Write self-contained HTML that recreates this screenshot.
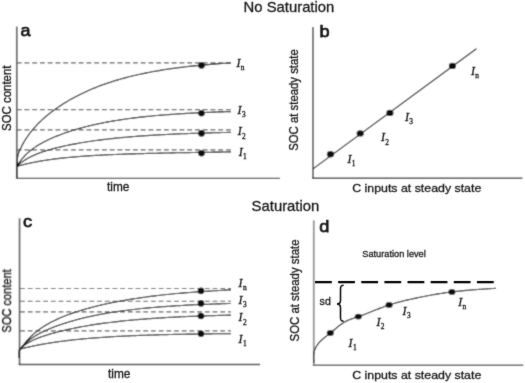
<!DOCTYPE html>
<html><head><meta charset="utf-8"><style>
html,body{margin:0;padding:0;background:#fff;}
svg{display:block;}
text{font-family:"Liberation Sans",sans-serif;fill:#1a1a1a;stroke:#1a1a1a;stroke-width:0.3px;}
.I{font-family:"Liberation Serif",serif;font-style:italic;fill:#1a1a1a;}
.sub{font-family:"Liberation Serif",serif;fill:#1a1a1a;}
.ax{fill:none;}
.L{font-weight:normal;stroke-width:0.75px;}
.dash{stroke:#5a5a5a;stroke-width:1.15;stroke-dasharray:4.9 2.85;fill:none;}
.cv{stroke:#000;stroke-width:1.15;fill:none;}
</style></head><body>
<svg width="525" height="383" viewBox="0 0 525 383">
<defs><filter id="soft" x="0" y="0" width="525" height="383" filterUnits="userSpaceOnUse"><feConvolveMatrix order="3" kernelMatrix="1 4 1 4 16 4 1 4 1" edgeMode="duplicate"/></filter>
<filter id="softT" x="0" y="0" width="525" height="383" filterUnits="userSpaceOnUse"><feConvolveMatrix order="3" kernelMatrix="1 8 1 8 64 8 1 8 1" edgeMode="none"/></filter></defs>
<g filter="url(#soft)">
<rect x="0" y="0" width="525" height="383" fill="#fff"/>
<!-- titles -->

<!-- panel a -->
<path class="ax" d="M16.8,26.6 V179" stroke="#62626c" stroke-width="1.8"/><path class="ax" d="M16,178.35 H280" stroke="#3a3a42" stroke-width="1.45"/>
<g class="dash">
<path d="M16.7,62.8 H231"/><path d="M16.7,109.6 H231"/><path d="M16.7,129.8 H231"/><path d="M16.7,149.8 H231"/>
</g>
<g class="cv">
<path d="M16.9,178 V166.4"/>
<path d="M16.90,166.40 L16.90,166.33 L16.91,166.10 L16.93,165.68 L16.96,165.08 L17.01,164.32 L17.06,163.42 L17.12,162.42 L17.20,161.37 L17.29,160.29 L17.39,159.23 L17.50,158.20 L17.63,157.24 L17.77,156.34 L17.92,155.51 L18.09,154.75 L18.27,154.04 L18.47,153.38 L18.67,152.74 L18.90,152.13 L19.14,151.53 L19.39,150.92 L19.66,150.31 L19.94,149.69 L20.24,149.05 L20.56,148.40 L20.89,147.73 L21.23,147.05 L21.59,146.35 L21.97,145.63 L22.36,144.89 L22.77,144.15 L23.19,143.39 L23.63,142.61 L24.09,141.83 L24.56,141.04 L25.05,140.24 L25.56,139.43 L26.08,138.61 L26.62,137.79 L27.18,136.96 L27.76,136.12 L28.35,135.28 L28.96,134.44 L29.58,133.60 L30.22,132.75 L30.88,131.90 L31.56,131.05 L32.26,130.19 L32.97,129.34 L33.70,128.49 L34.45,127.63 L35.21,126.78 L36.00,125.92 L36.80,125.07 L37.62,124.21 L38.46,123.36 L39.31,122.51 L40.19,121.65 L41.08,120.80 L41.99,119.95 L42.92,119.10 L43.87,118.25 L44.83,117.41 L45.82,116.56 L46.82,115.72 L47.84,114.87 L48.88,114.03 L49.94,113.19 L51.02,112.35 L52.12,111.52 L53.23,110.68 L54.37,109.85 L55.52,109.02 L56.70,108.19 L57.89,107.37 L59.10,106.54 L60.33,105.72 L61.58,104.91 L62.85,104.09 L64.14,103.28 L65.45,102.47 L66.78,101.67 L68.13,100.87 L69.50,100.08 L70.88,99.29 L72.29,98.50 L73.72,97.72 L75.16,96.94 L76.63,96.17 L78.12,95.41 L79.62,94.65 L81.15,93.90 L82.70,93.15 L84.26,92.41 L85.85,91.68 L87.46,90.95 L89.08,90.23 L90.73,89.52 L92.40,88.81 L94.09,88.12 L95.80,87.43 L97.52,86.75 L99.27,86.08 L101.04,85.41 L102.83,84.76 L104.64,84.11 L106.48,83.47 L108.33,82.84 L110.20,82.22 L112.09,81.61 L114.01,81.01 L115.94,80.41 L117.90,79.83 L119.88,79.26 L121.87,78.69 L123.89,78.14 L125.93,77.59 L127.99,77.06 L130.07,76.53 L132.18,76.01 L134.30,75.51 L136.45,75.01 L138.61,74.52 L140.80,74.04 L143.01,73.58 L145.24,73.12 L147.49,72.67 L149.76,72.23 L152.06,71.80 L154.37,71.38 L156.71,70.97 L159.07,70.57 L161.45,70.17 L163.85,69.79 L166.27,69.42 L168.72,69.05 L171.19,68.69 L173.68,68.35 L176.19,68.01 L178.72,67.68 L181.27,67.36 L183.85,67.04 L186.44,66.74 L189.06,66.44 L191.70,66.16 L194.37,65.87 L197.05,65.60 L199.76,65.34 L202.49,65.08 L205.24,64.83 L208.01,64.59 L210.81,64.35 L213.63,64.12 L216.47,63.90 L219.33,63.69 L222.21,63.48 L225.12,63.28 L228.05,63.08 L231.00,62.90"/>
<path d="M16.90,166.40 L16.90,166.39 L16.91,166.38 L16.93,166.34 L16.96,166.29 L17.01,166.22 L17.06,166.13 L17.12,166.02 L17.20,165.89 L17.29,165.74 L17.39,165.57 L17.50,165.38 L17.63,165.17 L17.77,164.94 L17.92,164.69 L18.09,164.42 L18.27,164.14 L18.47,163.83 L18.67,163.51 L18.90,163.17 L19.14,162.81 L19.39,162.44 L19.66,162.05 L19.94,161.65 L20.24,161.23 L20.56,160.80 L20.89,160.36 L21.23,159.91 L21.59,159.45 L21.97,158.98 L22.36,158.50 L22.77,158.02 L23.19,157.52 L23.63,157.02 L24.09,156.52 L24.56,156.01 L25.05,155.49 L25.56,154.97 L26.08,154.45 L26.62,153.93 L27.18,153.41 L27.76,152.88 L28.35,152.35 L28.96,151.83 L29.58,151.30 L30.22,150.77 L30.88,150.24 L31.56,149.72 L32.26,149.19 L32.97,148.67 L33.70,148.15 L34.45,147.63 L35.21,147.11 L36.00,146.59 L36.80,146.07 L37.62,145.56 L38.46,145.04 L39.31,144.53 L40.19,144.02 L41.08,143.51 L41.99,143.01 L42.92,142.50 L43.87,142.00 L44.83,141.50 L45.82,141.00 L46.82,140.50 L47.84,140.01 L48.88,139.52 L49.94,139.02 L51.02,138.53 L52.12,138.05 L53.23,137.56 L54.37,137.07 L55.52,136.59 L56.70,136.11 L57.89,135.64 L59.10,135.16 L60.33,134.69 L61.58,134.22 L62.85,133.75 L64.14,133.28 L65.45,132.82 L66.78,132.36 L68.13,131.90 L69.50,131.45 L70.88,131.00 L72.29,130.55 L73.72,130.11 L75.16,129.67 L76.63,129.24 L78.12,128.81 L79.62,128.38 L81.15,127.95 L82.70,127.54 L84.26,127.12 L85.85,126.71 L87.46,126.31 L89.08,125.90 L90.73,125.51 L92.40,125.12 L94.09,124.73 L95.80,124.35 L97.52,123.98 L99.27,123.61 L101.04,123.24 L102.83,122.88 L104.64,122.53 L106.48,122.18 L108.33,121.84 L110.20,121.50 L112.09,121.17 L114.01,120.84 L115.94,120.52 L117.90,120.21 L119.88,119.90 L121.87,119.60 L123.89,119.30 L125.93,119.01 L127.99,118.73 L130.07,118.45 L132.18,118.18 L134.30,117.91 L136.45,117.65 L138.61,117.39 L140.80,117.14 L143.01,116.90 L145.24,116.66 L147.49,116.43 L149.76,116.20 L152.06,115.98 L154.37,115.76 L156.71,115.55 L159.07,115.34 L161.45,115.14 L163.85,114.95 L166.27,114.76 L168.72,114.57 L171.19,114.39 L173.68,114.22 L176.19,114.05 L178.72,113.88 L181.27,113.72 L183.85,113.57 L186.44,113.42 L189.06,113.27 L191.70,113.13 L194.37,112.99 L197.05,112.86 L199.76,112.73 L202.49,112.60 L205.24,112.48 L208.01,112.37 L210.81,112.25 L213.63,112.14 L216.47,112.04 L219.33,111.94 L222.21,111.84 L225.12,111.74 L228.05,111.65 L231.00,111.56"/>
<path d="M16.90,166.40 L16.90,166.40 L16.91,166.39 L16.93,166.37 L16.96,166.34 L17.01,166.30 L17.06,166.25 L17.12,166.18 L17.20,166.11 L17.29,166.03 L17.39,165.93 L17.50,165.82 L17.63,165.71 L17.77,165.58 L17.92,165.43 L18.09,165.28 L18.27,165.12 L18.47,164.94 L18.67,164.76 L18.90,164.56 L19.14,164.35 L19.39,164.14 L19.66,163.91 L19.94,163.68 L20.24,163.43 L20.56,163.18 L20.89,162.92 L21.23,162.65 L21.59,162.38 L21.97,162.10 L22.36,161.81 L22.77,161.52 L23.19,161.22 L23.63,160.91 L24.09,160.61 L24.56,160.29 L25.05,159.98 L25.56,159.66 L26.08,159.34 L26.62,159.01 L27.18,158.69 L27.76,158.36 L28.35,158.03 L28.96,157.70 L29.58,157.36 L30.22,157.03 L30.88,156.70 L31.56,156.37 L32.26,156.03 L32.97,155.70 L33.70,155.37 L34.45,155.04 L35.21,154.71 L36.00,154.38 L36.80,154.05 L37.62,153.72 L38.46,153.39 L39.31,153.07 L40.19,152.75 L41.08,152.42 L41.99,152.10 L42.92,151.78 L43.87,151.47 L44.83,151.15 L45.82,150.84 L46.82,150.52 L47.84,150.21 L48.88,149.90 L49.94,149.59 L51.02,149.29 L52.12,148.98 L53.23,148.68 L54.37,148.38 L55.52,148.08 L56.70,147.78 L57.89,147.49 L59.10,147.19 L60.33,146.90 L61.58,146.61 L62.85,146.32 L64.14,146.04 L65.45,145.75 L66.78,145.47 L68.13,145.19 L69.50,144.91 L70.88,144.64 L72.29,144.36 L73.72,144.09 L75.16,143.82 L76.63,143.56 L78.12,143.29 L79.62,143.03 L81.15,142.77 L82.70,142.51 L84.26,142.26 L85.85,142.01 L87.46,141.76 L89.08,141.51 L90.73,141.27 L92.40,141.02 L94.09,140.79 L95.80,140.55 L97.52,140.32 L99.27,140.09 L101.04,139.86 L102.83,139.64 L104.64,139.42 L106.48,139.20 L108.33,138.99 L110.20,138.78 L112.09,138.57 L114.01,138.37 L115.94,138.17 L117.90,137.97 L119.88,137.78 L121.87,137.59 L123.89,137.40 L125.93,137.22 L127.99,137.04 L130.07,136.86 L132.18,136.68 L134.30,136.51 L136.45,136.35 L138.61,136.18 L140.80,136.02 L143.01,135.87 L145.24,135.71 L147.49,135.56 L149.76,135.42 L152.06,135.27 L154.37,135.13 L156.71,135.00 L159.07,134.86 L161.45,134.73 L163.85,134.61 L166.27,134.48 L168.72,134.36 L171.19,134.24 L173.68,134.13 L176.19,134.02 L178.72,133.91 L181.27,133.80 L183.85,133.70 L186.44,133.60 L189.06,133.50 L191.70,133.40 L194.37,133.31 L197.05,133.22 L199.76,133.14 L202.49,133.05 L205.24,132.97 L208.01,132.89 L210.81,132.81 L213.63,132.74 L216.47,132.67 L219.33,132.60 L222.21,132.53 L225.12,132.46 L228.05,132.40 L231.00,132.34"/>
<path d="M16.90,166.40 L16.90,166.40 L16.91,166.40 L16.93,166.39 L16.96,166.38 L17.01,166.37 L17.06,166.35 L17.12,166.34 L17.20,166.31 L17.29,166.29 L17.39,166.26 L17.50,166.23 L17.63,166.19 L17.77,166.15 L17.92,166.11 L18.09,166.06 L18.27,166.01 L18.47,165.96 L18.67,165.90 L18.90,165.83 L19.14,165.77 L19.39,165.70 L19.66,165.63 L19.94,165.55 L20.24,165.47 L20.56,165.38 L20.89,165.30 L21.23,165.21 L21.59,165.11 L21.97,165.01 L22.36,164.91 L22.77,164.81 L23.19,164.70 L23.63,164.59 L24.09,164.48 L24.56,164.36 L25.05,164.24 L25.56,164.12 L26.08,164.00 L26.62,163.87 L27.18,163.74 L27.76,163.61 L28.35,163.48 L28.96,163.34 L29.58,163.20 L30.22,163.06 L30.88,162.92 L31.56,162.78 L32.26,162.64 L32.97,162.49 L33.70,162.34 L34.45,162.20 L35.21,162.05 L36.00,161.90 L36.80,161.75 L37.62,161.59 L38.46,161.44 L39.31,161.29 L40.19,161.14 L41.08,160.98 L41.99,160.83 L42.92,160.67 L43.87,160.52 L44.83,160.37 L45.82,160.22 L46.82,160.06 L47.84,159.91 L48.88,159.76 L49.94,159.61 L51.02,159.46 L52.12,159.31 L53.23,159.16 L54.37,159.01 L55.52,158.87 L56.70,158.72 L57.89,158.58 L59.10,158.43 L60.33,158.29 L61.58,158.15 L62.85,158.01 L64.14,157.88 L65.45,157.74 L66.78,157.61 L68.13,157.48 L69.50,157.35 L70.88,157.22 L72.29,157.09 L73.72,156.97 L75.16,156.84 L76.63,156.72 L78.12,156.60 L79.62,156.48 L81.15,156.37 L82.70,156.26 L84.26,156.14 L85.85,156.03 L87.46,155.93 L89.08,155.82 L90.73,155.72 L92.40,155.61 L94.09,155.51 L95.80,155.41 L97.52,155.32 L99.27,155.22 L101.04,155.13 L102.83,155.04 L104.64,154.95 L106.48,154.86 L108.33,154.78 L110.20,154.69 L112.09,154.61 L114.01,154.53 L115.94,154.45 L117.90,154.37 L119.88,154.30 L121.87,154.22 L123.89,154.15 L125.93,154.08 L127.99,154.01 L130.07,153.94 L132.18,153.87 L134.30,153.81 L136.45,153.74 L138.61,153.68 L140.80,153.62 L143.01,153.56 L145.24,153.50 L147.49,153.44 L149.76,153.38 L152.06,153.32 L154.37,153.27 L156.71,153.21 L159.07,153.16 L161.45,153.11 L163.85,153.05 L166.27,153.00 L168.72,152.95 L171.19,152.90 L173.68,152.85 L176.19,152.80 L178.72,152.76 L181.27,152.71 L183.85,152.66 L186.44,152.61 L189.06,152.57 L191.70,152.52 L194.37,152.48 L197.05,152.43 L199.76,152.39 L202.49,152.34 L205.24,152.30 L208.01,152.26 L210.81,152.21 L213.63,152.17 L216.47,152.13 L219.33,152.08 L222.21,152.04 L225.12,152.00 L228.05,151.96 L231.00,151.91"/>
</g>
<g fill="#111">
<circle cx="201.5" cy="65.4" r="3.3"/><circle cx="201.5" cy="113.2" r="3.3"/><circle cx="201.5" cy="133.4" r="3.3"/><circle cx="201.5" cy="153.3" r="3.3"/>
</g>

<!-- panel b -->
<path class="ax" d="M313,27 V179" stroke="#6c6c76" stroke-width="1.9"/><path class="ax" d="M312,178.3 H522.4" stroke="#3e3e46" stroke-width="1.45"/>
<path class="cv" d="M313,168.9 L476.4,48.7"/>
<g fill="#111">
<ellipse cx="330.5" cy="154.3" rx="3.6" ry="3.2"/><ellipse cx="360.2" cy="133.4" rx="3.6" ry="3.2"/><ellipse cx="389.9" cy="112.9" rx="3.6" ry="3.2"/><ellipse cx="452.4" cy="65.9" rx="3.6" ry="3.2"/>
</g>

<!-- panel c -->
<path class="ax" d="M19.55,218.3 V365" stroke="#5a5a64" stroke-width="1.7"/><path class="ax" d="M18.7,364.4 H260.1" stroke="#3e3e46" stroke-width="1.45"/>
<g class="dash" style="stroke-dasharray:4.8 2.9">
<path d="M20.1,288.5 H231"/><path d="M20.1,301.2 H231"/><path d="M20.1,311.9 H231"/><path d="M20.1,330.9 H231"/>
</g>
<g class="cv">
<path d="M19.30,358.00 L19.30,357.10 L19.31,354.71 L19.33,352.45 L19.36,351.28 L19.40,350.89 L19.46,350.75 L19.52,350.64 L19.59,350.52 L19.68,350.38 L19.78,350.23 L19.89,350.05 L20.02,349.85 L20.16,349.64 L20.31,349.40 L20.48,349.15 L20.65,348.88 L20.85,348.59 L21.05,348.28 L21.28,347.95 L21.51,347.61 L21.76,347.24 L22.03,346.87 L22.31,346.47 L22.60,346.06 L22.92,345.64 L23.24,345.20 L23.58,344.74 L23.94,344.28 L24.31,343.80 L24.70,343.31 L25.10,342.80 L25.52,342.29 L25.96,341.77 L26.41,341.24 L26.88,340.70 L27.36,340.15 L27.86,339.59 L28.38,339.03 L28.92,338.47 L29.47,337.90 L30.03,337.32 L30.62,336.74 L31.22,336.16 L31.84,335.57 L32.47,334.99 L33.13,334.40 L33.80,333.81 L34.48,333.22 L35.19,332.63 L35.91,332.04 L36.65,331.45 L37.41,330.86 L38.18,330.27 L38.97,329.68 L39.79,329.10 L40.61,328.52 L41.46,327.94 L42.32,327.36 L43.21,326.79 L44.11,326.22 L45.03,325.65 L45.96,325.09 L46.92,324.53 L47.89,323.97 L48.88,323.42 L49.89,322.87 L50.92,322.32 L51.97,321.78 L53.04,321.24 L54.12,320.70 L55.23,320.17 L56.35,319.64 L57.49,319.12 L58.65,318.60 L59.83,318.08 L61.03,317.57 L62.25,317.06 L63.48,316.55 L64.74,316.05 L66.01,315.55 L67.31,315.06 L68.62,314.57 L69.95,314.08 L71.31,313.59 L72.68,313.11 L74.07,312.64 L75.48,312.17 L76.91,311.70 L78.36,311.23 L79.83,310.77 L81.32,310.31 L82.83,309.86 L84.36,309.41 L85.91,308.96 L87.48,308.52 L89.07,308.08 L90.67,307.64 L92.30,307.21 L93.95,306.78 L95.62,306.36 L97.31,305.94 L99.02,305.53 L100.75,305.12 L102.50,304.71 L104.27,304.31 L106.06,303.91 L107.87,303.52 L109.70,303.13 L111.55,302.75 L113.43,302.37 L115.32,302.00 L117.23,301.63 L119.17,301.26 L121.12,300.90 L123.10,300.55 L125.09,300.20 L127.11,299.85 L129.15,299.51 L131.21,299.18 L133.28,298.85 L135.38,298.52 L137.51,298.20 L139.65,297.89 L141.81,297.58 L144.00,297.27 L146.20,296.98 L148.43,296.68 L150.67,296.39 L152.94,296.11 L155.23,295.83 L157.54,295.55 L159.88,295.29 L162.23,295.02 L164.60,294.76 L167.00,294.51 L169.42,294.26 L171.86,294.02 L174.32,293.78 L176.80,293.55 L179.30,293.32 L181.83,293.09 L184.38,292.88 L186.94,292.66 L189.53,292.45 L192.14,292.25 L194.78,292.05 L197.43,291.86 L200.11,291.66 L202.81,291.48 L205.53,291.30 L208.27,291.12 L211.04,290.95 L213.82,290.78 L216.63,290.62 L219.46,290.46 L222.31,290.30 L225.19,290.15 L228.08,290.00 L231.00,289.86"/>
<path d="M19.30,358.00 L19.30,357.20 L19.31,354.95 L19.33,352.55 L19.36,351.04 L19.40,350.42 L19.46,350.20 L19.52,350.09 L19.59,349.98 L19.68,349.86 L19.78,349.72 L19.89,349.57 L20.02,349.40 L20.16,349.21 L20.31,349.01 L20.48,348.79 L20.65,348.56 L20.85,348.31 L21.05,348.05 L21.28,347.77 L21.51,347.48 L21.76,347.18 L22.03,346.87 L22.31,346.54 L22.60,346.20 L22.92,345.86 L23.24,345.50 L23.58,345.13 L23.94,344.76 L24.31,344.38 L24.70,343.99 L25.10,343.59 L25.52,343.19 L25.96,342.78 L26.41,342.37 L26.88,341.96 L27.36,341.54 L27.86,341.12 L28.38,340.69 L28.92,340.27 L29.47,339.84 L30.03,339.41 L30.62,338.98 L31.22,338.54 L31.84,338.11 L32.47,337.68 L33.13,337.24 L33.80,336.81 L34.48,336.38 L35.19,335.94 L35.91,335.51 L36.65,335.08 L37.41,334.64 L38.18,334.21 L38.97,333.78 L39.79,333.35 L40.61,332.92 L41.46,332.49 L42.32,332.06 L43.21,331.63 L44.11,331.20 L45.03,330.77 L45.96,330.35 L46.92,329.92 L47.89,329.50 L48.88,329.07 L49.89,328.65 L50.92,328.22 L51.97,327.80 L53.04,327.38 L54.12,326.96 L55.23,326.54 L56.35,326.12 L57.49,325.71 L58.65,325.29 L59.83,324.88 L61.03,324.46 L62.25,324.05 L63.48,323.64 L64.74,323.23 L66.01,322.83 L67.31,322.43 L68.62,322.02 L69.95,321.62 L71.31,321.23 L72.68,320.83 L74.07,320.44 L75.48,320.05 L76.91,319.67 L78.36,319.29 L79.83,318.91 L81.32,318.53 L82.83,318.16 L84.36,317.79 L85.91,317.42 L87.48,317.06 L89.07,316.70 L90.67,316.35 L92.30,316.00 L93.95,315.65 L95.62,315.31 L97.31,314.98 L99.02,314.64 L100.75,314.31 L102.50,313.99 L104.27,313.67 L106.06,313.36 L107.87,313.05 L109.70,312.74 L111.55,312.44 L113.43,312.15 L115.32,311.86 L117.23,311.57 L119.17,311.29 L121.12,311.02 L123.10,310.75 L125.09,310.48 L127.11,310.22 L129.15,309.97 L131.21,309.72 L133.28,309.47 L135.38,309.23 L137.51,309.00 L139.65,308.77 L141.81,308.54 L144.00,308.32 L146.20,308.11 L148.43,307.90 L150.67,307.69 L152.94,307.49 L155.23,307.30 L157.54,307.11 L159.88,306.92 L162.23,306.74 L164.60,306.56 L167.00,306.39 L169.42,306.22 L171.86,306.06 L174.32,305.90 L176.80,305.75 L179.30,305.60 L181.83,305.45 L184.38,305.31 L186.94,305.17 L189.53,305.04 L192.14,304.91 L194.78,304.78 L197.43,304.66 L200.11,304.54 L202.81,304.42 L205.53,304.31 L208.27,304.21 L211.04,304.10 L213.82,304.00 L216.63,303.90 L219.46,303.81 L222.31,303.72 L225.19,303.63 L228.08,303.55 L231.00,303.46"/>
<path d="M19.30,358.00 L19.30,357.40 L19.31,355.61 L19.33,353.36 L19.36,351.55 L19.40,350.52 L19.46,350.07 L19.52,349.89 L19.59,349.78 L19.68,349.68 L19.78,349.57 L19.89,349.44 L20.02,349.31 L20.16,349.16 L20.31,349.00 L20.48,348.82 L20.65,348.64 L20.85,348.44 L21.05,348.23 L21.28,348.02 L21.51,347.79 L21.76,347.55 L22.03,347.31 L22.31,347.05 L22.60,346.79 L22.92,346.52 L23.24,346.25 L23.58,345.97 L23.94,345.68 L24.31,345.39 L24.70,345.09 L25.10,344.80 L25.52,344.49 L25.96,344.19 L26.41,343.88 L26.88,343.58 L27.36,343.27 L27.86,342.95 L28.38,342.64 L28.92,342.33 L29.47,342.02 L30.03,341.71 L30.62,341.39 L31.22,341.08 L31.84,340.77 L32.47,340.46 L33.13,340.15 L33.80,339.84 L34.48,339.53 L35.19,339.23 L35.91,338.92 L36.65,338.61 L37.41,338.31 L38.18,338.00 L38.97,337.70 L39.79,337.39 L40.61,337.09 L41.46,336.79 L42.32,336.49 L43.21,336.19 L44.11,335.88 L45.03,335.58 L45.96,335.28 L46.92,334.98 L47.89,334.68 L48.88,334.38 L49.89,334.08 L50.92,333.79 L51.97,333.49 L53.04,333.19 L54.12,332.89 L55.23,332.59 L56.35,332.29 L57.49,332.00 L58.65,331.70 L59.83,331.40 L61.03,331.11 L62.25,330.81 L63.48,330.52 L64.74,330.22 L66.01,329.93 L67.31,329.64 L68.62,329.35 L69.95,329.06 L71.31,328.77 L72.68,328.49 L74.07,328.20 L75.48,327.92 L76.91,327.64 L78.36,327.36 L79.83,327.08 L81.32,326.80 L82.83,326.53 L84.36,326.26 L85.91,325.99 L87.48,325.72 L89.07,325.45 L90.67,325.19 L92.30,324.93 L93.95,324.67 L95.62,324.42 L97.31,324.17 L99.02,323.92 L100.75,323.67 L102.50,323.43 L104.27,323.19 L106.06,322.95 L107.87,322.72 L109.70,322.49 L111.55,322.26 L113.43,322.03 L115.32,321.81 L117.23,321.59 L119.17,321.38 L121.12,321.17 L123.10,320.96 L125.09,320.76 L127.11,320.55 L129.15,320.36 L131.21,320.16 L133.28,319.97 L135.38,319.79 L137.51,319.60 L139.65,319.42 L141.81,319.25 L144.00,319.07 L146.20,318.90 L148.43,318.74 L150.67,318.57 L152.94,318.42 L155.23,318.26 L157.54,318.11 L159.88,317.96 L162.23,317.81 L164.60,317.67 L167.00,317.53 L169.42,317.40 L171.86,317.26 L174.32,317.13 L176.80,317.01 L179.30,316.88 L181.83,316.76 L184.38,316.65 L186.94,316.53 L189.53,316.42 L192.14,316.32 L194.78,316.21 L197.43,316.11 L200.11,316.01 L202.81,315.91 L205.53,315.82 L208.27,315.73 L211.04,315.64 L213.82,315.56 L216.63,315.47 L219.46,315.39 L222.31,315.31 L225.19,315.24 L228.08,315.16 L231.00,315.09"/>
<path d="M19.30,358.00 L19.30,357.20 L19.31,354.90 L19.33,352.26 L19.36,350.42 L19.40,349.57 L19.46,349.29 L19.52,349.22 L19.59,349.19 L19.68,349.17 L19.78,349.14 L19.89,349.11 L20.02,349.08 L20.16,349.05 L20.31,349.01 L20.48,348.96 L20.65,348.92 L20.85,348.87 L21.05,348.82 L21.28,348.76 L21.51,348.70 L21.76,348.64 L22.03,348.57 L22.31,348.50 L22.60,348.43 L22.92,348.35 L23.24,348.27 L23.58,348.19 L23.94,348.10 L24.31,348.01 L24.70,347.92 L25.10,347.83 L25.52,347.73 L25.96,347.62 L26.41,347.52 L26.88,347.41 L27.36,347.30 L27.86,347.19 L28.38,347.07 L28.92,346.95 L29.47,346.83 L30.03,346.70 L30.62,346.58 L31.22,346.45 L31.84,346.31 L32.47,346.18 L33.13,346.04 L33.80,345.90 L34.48,345.76 L35.19,345.62 L35.91,345.48 L36.65,345.33 L37.41,345.18 L38.18,345.03 L38.97,344.88 L39.79,344.73 L40.61,344.57 L41.46,344.42 L42.32,344.26 L43.21,344.10 L44.11,343.95 L45.03,343.79 L45.96,343.63 L46.92,343.47 L47.89,343.30 L48.88,343.14 L49.89,342.98 L50.92,342.82 L51.97,342.66 L53.04,342.49 L54.12,342.33 L55.23,342.17 L56.35,342.01 L57.49,341.84 L58.65,341.68 L59.83,341.52 L61.03,341.36 L62.25,341.20 L63.48,341.04 L64.74,340.88 L66.01,340.72 L67.31,340.57 L68.62,340.41 L69.95,340.25 L71.31,340.10 L72.68,339.95 L74.07,339.80 L75.48,339.65 L76.91,339.50 L78.36,339.35 L79.83,339.20 L81.32,339.06 L82.83,338.92 L84.36,338.77 L85.91,338.63 L87.48,338.50 L89.07,338.36 L90.67,338.23 L92.30,338.09 L93.95,337.96 L95.62,337.83 L97.31,337.71 L99.02,337.58 L100.75,337.46 L102.50,337.34 L104.27,337.22 L106.06,337.10 L107.87,336.99 L109.70,336.87 L111.55,336.76 L113.43,336.65 L115.32,336.55 L117.23,336.44 L119.17,336.34 L121.12,336.24 L123.10,336.14 L125.09,336.04 L127.11,335.95 L129.15,335.86 L131.21,335.77 L133.28,335.68 L135.38,335.59 L137.51,335.51 L139.65,335.43 L141.81,335.35 L144.00,335.27 L146.20,335.20 L148.43,335.12 L150.67,335.05 L152.94,334.98 L155.23,334.91 L157.54,334.85 L159.88,334.78 L162.23,334.72 L164.60,334.66 L167.00,334.60 L169.42,334.54 L171.86,334.49 L174.32,334.43 L176.80,334.38 L179.30,334.33 L181.83,334.28 L184.38,334.23 L186.94,334.19 L189.53,334.14 L192.14,334.10 L194.78,334.06 L197.43,334.02 L200.11,333.98 L202.81,333.94 L205.53,333.90 L208.27,333.87 L211.04,333.84 L213.82,333.80 L216.63,333.77 L219.46,333.74 L222.31,333.71 L225.19,333.69 L228.08,333.66 L231.00,333.63"/>
</g>
<g fill="#111">
<circle cx="201" cy="290.9" r="3.3"/><circle cx="201" cy="303.4" r="3.3"/><circle cx="201" cy="316" r="3.3"/><circle cx="201" cy="333.7" r="3.3"/>
</g>

<!-- panel d -->
<path class="ax" d="M313.8,220.4 V366" stroke="#94949e" stroke-width="1.9"/><path class="ax" d="M312.9,365.2 H523.3" stroke="#5a5a64" stroke-width="1.45"/>
<path class="cv" d="M313.90,363.00 L313.79,361.65 L313.69,360.31 L313.61,358.97 L313.57,357.63 L313.58,356.31 L313.65,354.99 L313.79,353.69 L314.01,352.40 L314.33,351.12 L314.74,349.87 L315.25,348.64 L315.83,347.43 L316.48,346.26 L317.21,345.12 L317.99,344.02 L318.82,342.97 L319.71,341.96 L320.63,341.00 L321.58,340.09 L322.56,339.20 L323.57,338.35 L324.60,337.52 L325.64,336.70 L326.70,335.90 L327.75,335.09 L328.81,334.29 L329.86,333.47 L330.90,332.64 L331.93,331.79 L332.95,330.93 L333.97,330.06 L334.99,329.19 L336.00,328.33 L337.03,327.47 L338.05,326.63 L339.09,325.80 L340.14,324.99 L341.20,324.21 L342.28,323.47 L343.38,322.75 L344.50,322.08 L345.65,321.45 L346.82,320.87 L348.02,320.32 L349.23,319.81 L350.47,319.33 L351.71,318.87 L352.96,318.43 L354.23,318.00 L355.49,317.57 L356.76,317.15 L358.03,316.73 L359.29,316.29 L360.55,315.85 L361.80,315.40 L363.05,314.94 L364.29,314.47 L365.53,313.99 L366.77,313.51 L368.01,313.03 L369.24,312.54 L370.47,312.05 L371.70,311.56 L372.93,311.07 L374.16,310.58 L375.39,310.08 L376.61,309.59 L377.84,309.11 L379.07,308.63 L380.30,308.15 L381.53,307.67 L382.77,307.21 L384.00,306.75 L385.24,306.30 L386.49,305.86 L387.73,305.43 L388.99,305.00 L390.24,304.60 L391.50,304.20 L392.76,303.81 L394.03,303.44 L395.30,303.07 L396.58,302.71 L397.85,302.36 L399.13,302.02 L400.42,301.69 L401.70,301.36 L402.99,301.04 L404.28,300.73 L405.57,300.42 L406.86,300.12 L408.15,299.82 L409.45,299.53 L410.74,299.23 L412.04,298.94 L413.33,298.66 L414.63,298.38 L415.92,298.10 L417.22,297.82 L418.52,297.55 L419.82,297.28 L421.11,297.01 L422.41,296.75 L423.71,296.49 L425.01,296.24 L426.31,295.98 L427.62,295.74 L428.92,295.49 L430.22,295.25 L431.52,295.02 L432.83,294.78 L434.13,294.56 L435.44,294.33 L436.74,294.11 L438.05,293.90 L439.35,293.69 L440.66,293.48 L441.97,293.28 L443.28,293.08 L444.59,292.89 L445.90,292.70 L447.21,292.52 L448.52,292.34 L449.83,292.16 L451.14,292.00 L452.45,291.83 L453.77,291.67 L455.08,291.52 L456.39,291.37 L457.71,291.22 L459.02,291.08 L460.34,290.95 L461.66,290.81 L462.97,290.69 L464.29,290.56 L465.61,290.44 L466.93,290.32 L468.25,290.21 L469.56,290.10 L470.88,289.99 L472.20,289.88 L473.52,289.78 L474.84,289.68 L476.17,289.58 L477.49,289.49 L478.81,289.39 L480.13,289.30 L481.45,289.21 L482.77,289.12 L484.10,289.04 L485.42,288.95 L486.74,288.87 L488.06,288.78 L489.39,288.70 L490.71,288.62 L492.03,288.54 L493.35,288.46 L494.68,288.38 L496.00,288.30"/>
<g fill="#111">
<ellipse cx="330.3" cy="333" rx="3.6" ry="2.9"/><ellipse cx="358.3" cy="316.6" rx="3.6" ry="2.9"/><ellipse cx="389.1" cy="304.9" rx="3.6" ry="2.9"/><ellipse cx="451.9" cy="291.9" rx="3.6" ry="2.9"/>
</g>

</g>
<g filter="url(#softT)">
<text x="243.6" y="12.4" font-size="14.8" textLength="90.7" lengthAdjust="spacingAndGlyphs">No Saturation</text>
<text x="251.6" y="211.2" font-size="14.8" textLength="67.7" lengthAdjust="spacingAndGlyphs">Saturation</text>
<text x="20.4" y="36" font-size="17" class="L" textLength="10" lengthAdjust="spacingAndGlyphs">a</text>
<text transform="translate(10.9,131) rotate(-90)" font-size="12.2" textLength="65.5" lengthAdjust="spacingAndGlyphs">SOC content</text>
<text x="107" y="191" font-size="12" textLength="22.3" lengthAdjust="spacingAndGlyphs">time</text>
<text x="236.4" y="66.7" class="I" font-size="12">I</text><text x="240.70000000000002" y="70.0" class="sub" font-size="7.4">n</text>
<text x="237.6" y="113.7" class="I" font-size="12">I</text><text x="241.9" y="117.0" class="sub" font-size="7.4">3</text>
<text x="237.8" y="135.3" class="I" font-size="12">I</text><text x="242.10000000000002" y="138.60000000000002" class="sub" font-size="7.4">2</text>
<text x="238.8" y="155.7" class="I" font-size="12">I</text><text x="243.10000000000002" y="159.0" class="sub" font-size="7.4">1</text>
<text x="319.4" y="37" font-size="17" class="L" textLength="10.1" lengthAdjust="spacingAndGlyphs">b</text>
<text transform="translate(298.2,150.8) rotate(-90)" font-size="12.2" textLength="101.6" lengthAdjust="spacingAndGlyphs">SOC at steady state</text>
<text x="352.2" y="191.7" font-size="11.6" textLength="129.1" lengthAdjust="spacingAndGlyphs">C inputs at steady state</text>
<text x="347.4" y="162.9" class="I" font-size="12">I</text><text x="351.7" y="166.20000000000002" class="sub" font-size="7.4">1</text>
<text x="381" y="141.4" class="I" font-size="12">I</text><text x="385.3" y="144.70000000000002" class="sub" font-size="7.4">2</text>
<text x="405" y="120.6" class="I" font-size="12">I</text><text x="409.3" y="123.89999999999999" class="sub" font-size="7.4">3</text>
<text x="471" y="74.8" class="I" font-size="12">I</text><text x="475.3" y="78.1" class="sub" font-size="7.4">n</text>
<text x="23" y="227" font-size="17" class="L" textLength="9.1" lengthAdjust="spacingAndGlyphs">c</text>
<text transform="translate(11.1,332.6) rotate(-90)" font-size="12.2" textLength="63.4" lengthAdjust="spacingAndGlyphs">SOC content</text>
<text x="108" y="378.2" font-size="12" textLength="22.4" lengthAdjust="spacingAndGlyphs">time</text>
<text x="238.6" y="286.7" class="I" font-size="12">I</text><text x="242.9" y="290.0" class="sub" font-size="7.4">n</text>
<text x="238.6" y="303.8" class="I" font-size="12">I</text><text x="242.9" y="307.1" class="sub" font-size="7.4">3</text>
<text x="238.6" y="321.2" class="I" font-size="12">I</text><text x="242.9" y="324.5" class="sub" font-size="7.4">2</text>
<text x="238.6" y="343.1" class="I" font-size="12">I</text><text x="242.9" y="346.40000000000003" class="sub" font-size="7.4">1</text>
<text x="319.3" y="231.9" font-size="17" class="L" textLength="10.1" lengthAdjust="spacingAndGlyphs">d</text>
<text transform="translate(299.2,341.4) rotate(-90)" font-size="12.2" textLength="101.9" lengthAdjust="spacingAndGlyphs">SOC at steady state</text>
<text x="352.2" y="379.2" font-size="11.6" textLength="129.1" lengthAdjust="spacingAndGlyphs">C inputs at steady state</text>
<text x="362.3" y="256.8" font-size="9" textLength="63.5" lengthAdjust="spacingAndGlyphs" stroke-width="0.12">Saturation level</text>
<path class="k" d="M315,282.1 H494" stroke="#000" stroke-width="2.1" stroke-dasharray="16.8 6.33" fill="none"/>
<text x="319.6" y="305" font-size="10" textLength="11.2" lengthAdjust="spacingAndGlyphs" stroke-width="0">sd</text>
<path class="k" d="M343.6,285.3 C340.5,285.3 340.5,287 340.5,290 L340.5,300.5 C340.5,303 339,304 337,304.1 C339,304.2 340.5,305.2 340.5,307.7 L340.5,317.5 C340.5,320.5 341,321.2 343.6,321.2" stroke="#000" stroke-width="1.5" fill="none"/>
<text x="348.6" y="346.9" class="I" font-size="12">I</text><text x="352.90000000000003" y="350.2" class="sub" font-size="7.4">1</text>
<text x="376.4" y="325.5" class="I" font-size="12">I</text><text x="380.7" y="328.8" class="sub" font-size="7.4">2</text>
<text x="402.6" y="314.8" class="I" font-size="12">I</text><text x="406.90000000000003" y="318.1" class="sub" font-size="7.4">3</text>
<text x="458.2" y="305.5" class="I" font-size="12">I</text><text x="462.5" y="308.8" class="sub" font-size="7.4">n</text>
</g>
</svg>
</body></html>
